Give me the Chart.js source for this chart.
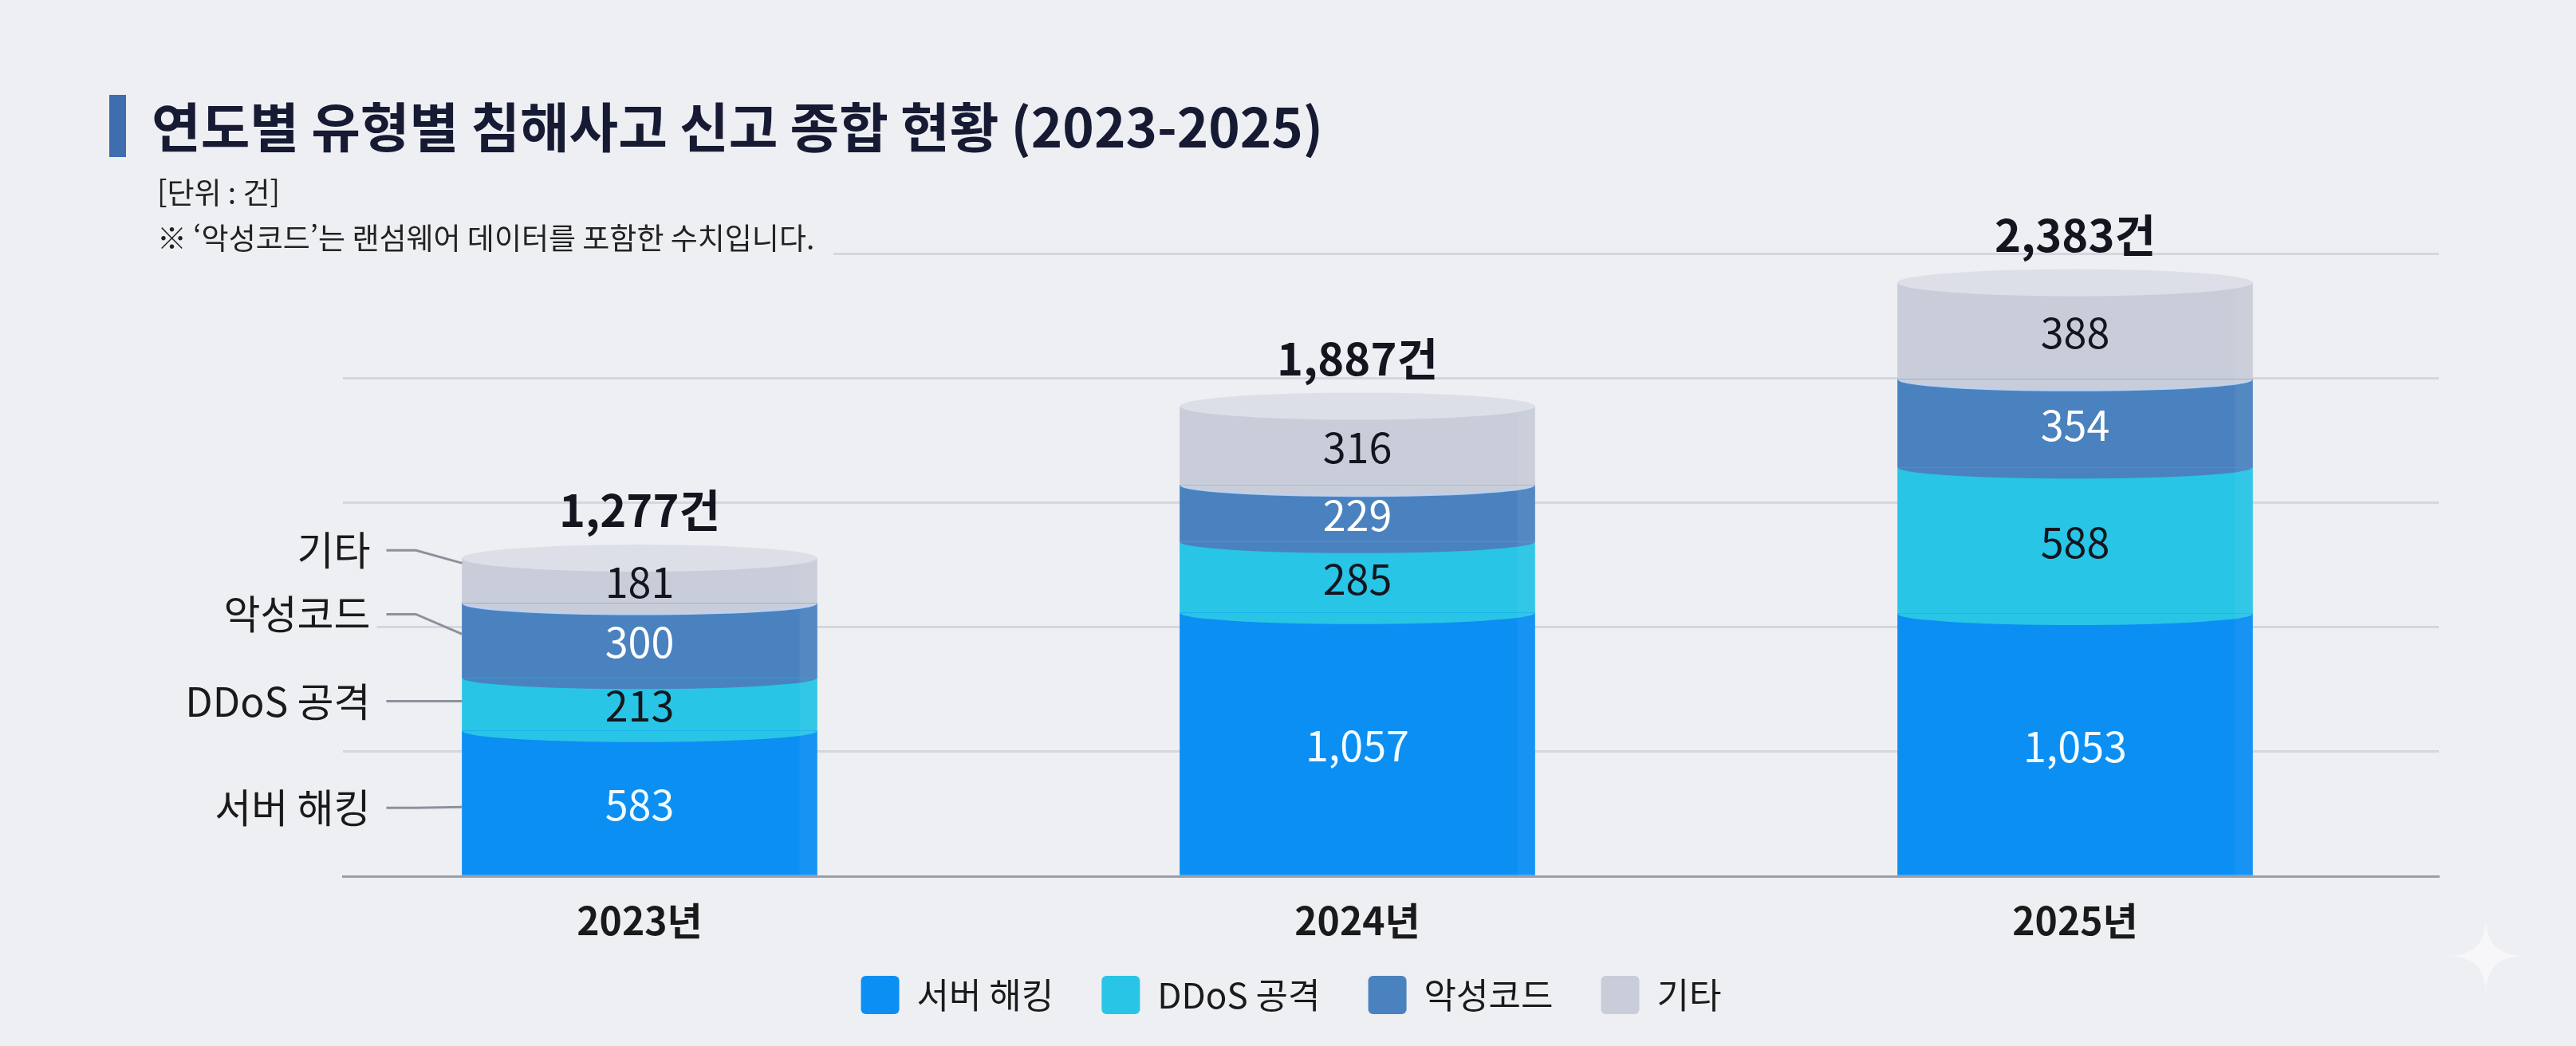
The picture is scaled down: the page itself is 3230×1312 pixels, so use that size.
<!DOCTYPE html>
<html lang="ko">
<head>
<meta charset="utf-8">
<script src="https://cdn.jsdelivr.net/npm/chart.js@4.4.1/dist/chart.umd.min.js"></script>
<style>
html,body{margin:0;padding:0;background:#eeeff3;}
canvas{display:block;}
</style>
</head>
<body>
<canvas id="c" width="3230" height="1312"></canvas>
<script>
// ---- data ----
const years = ['2023년', '2024년', '2025년'];
const seriesNames = ['서버 해킹', 'DDoS 공격', '악성코드', '기타'];
const serverHacking = [583, 1057, 1053];
const ddosAttack = [213, 285, 588];
const malware = [300, 229, 354];
const others = [181, 316, 388];
const yTicks = [0, 500, 1000, 1500, 2000, 2500];
const titleText = '연도별 유형별 침해사고 신고 종합 현황 (2023-2025)';
const unitText = '[단위 : 건]';
const noteText = '※ ‘악성코드’는 랜섬웨어 데이터를 포함한 수치입니다.';

// ---- styles ----
const FONT = "'Noto Sans CJK KR','Noto Sans',sans-serif";
const BG = '#eeeff3';
const colors = ['#0b8ff3', '#28c5e6', '#4a82bf', '#c9cdd9'];
const labelColors = ['#f2fbff', '#14161f', '#ffffff', '#14161f'];
const series = [serverHacking, ddosAttack, malware, others];
const fmt = v => v.toLocaleString('en-US');

Chart.defaults.font.family = FONT;

const decor = {
  id: 'decor',
  beforeDraw(chart) {
    const c = chart.ctx;
    c.save();
    c.fillStyle = BG;
    c.fillRect(0, 0, chart.width, chart.height);
    c.restore();
  },
  afterDatasetsDraw(chart) {
    const c = chart.ctx;
    const n = series.length;
    c.save();
    // curved segment boundaries
    for (let d = 1; d < n; d++) {
      chart.getDatasetMeta(d).data.forEach(bar => {
        const rx = bar.width / 2;
        c.beginPath();
        c.ellipse(bar.x, bar.base, rx, 14, 0, 0, Math.PI);
        c.closePath();
        c.fillStyle = colors[d];
        c.fill();
        if (d === n - 1) {
          c.beginPath();
          c.ellipse(bar.x, bar.base, rx - 1, 14, 0, 0.03, Math.PI - 0.03);
          c.strokeStyle = 'rgba(185,212,250,0.9)';
          c.lineWidth = 2;
          c.stroke();
        }
      });
    }
    // subtle right-edge sheen
    for (let d = 0; d < n; d++) {
      chart.getDatasetMeta(d).data.forEach(bar => {
        const right = bar.x + bar.width / 2;
        c.fillStyle = 'rgba(255,255,255,0.05)';
        c.fillRect(right - 22, bar.y, 22, bar.base - bar.y);
      });
    }
    // top caps
    const topMeta = chart.getDatasetMeta(n - 1);
    topMeta.data.forEach(bar => {
      c.beginPath();
      c.ellipse(bar.x, bar.y, bar.width / 2, 17, 0, 0, 2 * Math.PI);
      c.fillStyle = '#dcdfe7';
      c.fill();
    });
    // value labels
    c.textAlign = 'center';
    c.textBaseline = 'middle';
    c.font = `52px ${FONT}`;
    for (let d = 0; d < n; d++) {
      chart.getDatasetMeta(d).data.forEach((bar, i) => {
        c.fillStyle = labelColors[d];
        c.fillText(fmt(series[d][i]), bar.x, (bar.y + bar.base) / 2 + 2);
      });
    }
    // totals
    c.font = `bold 56px ${FONT}`;
    c.fillStyle = '#14161f';
    topMeta.data.forEach((bar, i) => {
      const t = series.reduce((s, a) => s + a[i], 0);
      c.fillText(fmt(t) + '건', bar.x, bar.y - 60);
    });
    // side labels on first column
    const labelDy = [6, -4, -33, -38];
    const lineEndDy = [5, -4, -8, -22];
    c.font = `50px ${FONT}`;
    c.textAlign = 'right';
    for (let d = 0; d < n; d++) {
      const bar = chart.getDatasetMeta(d).data[0];
      const left = bar.x - bar.width / 2;
      const cy = (bar.y + bar.base) / 2;
      const ly = cy + labelDy[d];
      const ey = cy + lineEndDy[d];
      const tw = c.measureText(seriesNames[d]).width;
      c.fillStyle = BG;
      c.fillRect(left - 115 - tw - 6, ly - 28, tw + 14, 56);
      c.fillStyle = '#1a1a1a';
      c.fillText(seriesNames[d], left - 115, ly);
      c.beginPath();
      c.moveTo(left - 95, ly);
      c.lineTo(left - 58, ly);
      c.lineTo(left, ey);
      c.strokeStyle = '#8d919b';
      c.lineWidth = 3;
      c.stroke();
    }
    c.restore();
  },
  afterDraw(chart) {
    const c = chart.ctx;
    c.save();
    c.fillStyle = '#3e6eae';
    c.fillRect(137, 119, 21, 78);
    c.textAlign = 'left';
    c.textBaseline = 'middle';
    c.font = `bold 67px ${FONT}`;
    c.fillStyle = '#161b33';
    c.fillText(titleText, 190, 160);
    c.font = `37px ${FONT}`;
    c.fillStyle = '#222222';
    c.fillText(unitText, 197, 242);
    c.fillStyle = BG;
    c.fillRect(190, 278, 855, 46);
    c.fillStyle = '#222222';
    c.fillText(noteText, 197, 299);
    // sparkle
    const sx = 3117, sy = 1199, r = 48;
    c.beginPath();
    c.moveTo(sx, sy - r);
    c.quadraticCurveTo(sx, sy, sx + r, sy);
    c.quadraticCurveTo(sx, sy, sx, sy + r);
    c.quadraticCurveTo(sx, sy, sx - r, sy);
    c.quadraticCurveTo(sx, sy, sx, sy - r);
    c.fillStyle = '#f7f7fa';
    c.fill();
    c.restore();
  }
};

const datasets = seriesNames.map((name, d) => ({
  label: name,
  data: series[d].map((v, i) => ({ x: i, y: v })),
  backgroundColor: colors[d],
  borderWidth: 0,
  barThickness: 445
}));

new Chart(document.getElementById('c'), {
  type: 'bar',
  data: { datasets },
  plugins: [decor],
  options: {
    responsive: false,
    animation: false,
    devicePixelRatio: 1,
    events: [],
    layout: { padding: { left: 30, right: 0, top: 318, bottom: 30 } },
    plugins: {
      tooltip: { enabled: false },
      title: { display: false },
      legend: {
        display: true,
        position: 'bottom',
        labels: {
          boxWidth: 48,
          boxHeight: 48,
          useBorderRadius: true,
          borderRadius: 6,
          padding: 38,
          color: '#1a1a1a',
          font: { size: 44, family: FONT },
          generateLabels: chart => chart.data.datasets.map((ds, i) => ({
            text: ds.label + '\u2002',
            fillStyle: ds.backgroundColor,
            strokeStyle: ds.backgroundColor,
            lineWidth: 0,
            fontColor: '#1a1a1a',
            hidden: false,
            borderRadius: 6,
            datasetIndex: i
          }))
        }
      }
    },
    scales: {
      x: {
        type: 'linear',
        stacked: true,
        offset: false,
        min: -0.4133,
        max: 2.5067,
        grid: { display: false, offset: false },
        border: { display: true, color: '#9a9ea8', width: 3 },
        ticks: {
          stepSize: 1,
          includeBounds: false,
          padding: 19,
          maxRotation: 0,
          autoSkip: false,
          color: '#1a1a1a',
          font: { size: 48, weight: 'bold', family: FONT },
          callback: v => (Number.isInteger(v) && years[v] !== undefined) ? years[v] : ''
        },
        afterFit: s => { s.height = 87; }
      },
      y: {
        type: 'linear',
        position: 'left',
        stacked: true,
        min: yTicks[0],
        max: yTicks[yTicks.length - 1],
        afterBuildTicks: s => { s.ticks = yTicks.map(v => ({ value: v })); },
        ticks: { display: false },
        grid: { color: '#d5d7de', lineWidth: 3, drawTicks: false },
        border: { display: false },
        afterFit: s => { s.width = 400; }
      },
      y2: {
        type: 'linear',
        position: 'right',
        display: true,
        grid: { display: false },
        ticks: { display: false },
        border: { display: false },
        afterFit: s => { s.width = 172; }
      }
    }
  }
});
</script>
</body>
</html>
